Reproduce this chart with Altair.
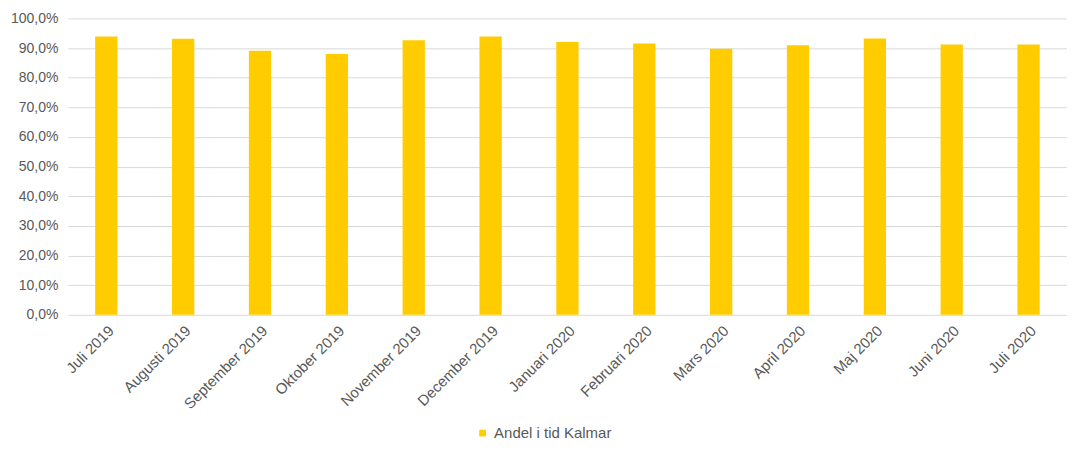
import altair as alt
import pandas as pd

months = ["Juli 2019", "Augusti 2019", "September 2019", "Oktober 2019", "November 2019",
          "December 2019", "Januari 2020", "Februari 2020", "Mars 2020", "April 2020",
          "Maj 2020", "Juni 2020", "Juli 2020"]
values = [93.9, 93.1, 89.1, 88.0, 92.6, 93.9, 92.0, 91.5, 89.8, 90.9, 93.2, 91.2, 91.2]
series = ["Andel i tid Kalmar"] * len(months)

df = pd.DataFrame({"month": months, "value": values, "series": series})

font = "Liberation Sans"
chart = alt.Chart(df).mark_bar(color="#FFCC00").encode(
    x=alt.X("month:N", sort=months, title=None,
            scale=alt.Scale(paddingInner=0.71, paddingOuter=0.355),
            axis=alt.Axis(labelAngle=-45, labelAlign="right", labelBaseline="top",
                          labelFont=font, labelFontSize=15, labelColor="#595959",
                          ticks=False, domain=False, labelPadding=8, grid=False)),
    y=alt.Y("value:Q", title=None,
            scale=alt.Scale(domain=[0, 100], nice=False),
            axis=alt.Axis(values=list(range(0, 101, 10)),
                          labelExpr="replace(format(datum.value, '.1f'), '.', ',') + '%'",
                          labelFont=font, labelFontSize=14, labelColor="#595959",
                          ticks=False, domain=False, labelPadding=10,
                          gridColor="#d9d9d9", gridWidth=1)),
    color=alt.Color("series:N", title=None,
                    scale=alt.Scale(range=["#FFCC00"]),
                    legend=alt.Legend(orient="none", legendX=408, legendY=408,
                                      symbolType="square", symbolSize=45,
                                      labelFont=font, labelFontSize=15,
                                      labelColor="#595959"))
).properties(
    width=1001, height=297,
    autosize=alt.AutoSizeParams(type="none"),
    padding={"left": 60, "top": 10, "right": 0, "bottom": 128}
).configure_view(stroke=None)

chart.save("out.html", embed_options={"renderer": "svg", "actions": False})
